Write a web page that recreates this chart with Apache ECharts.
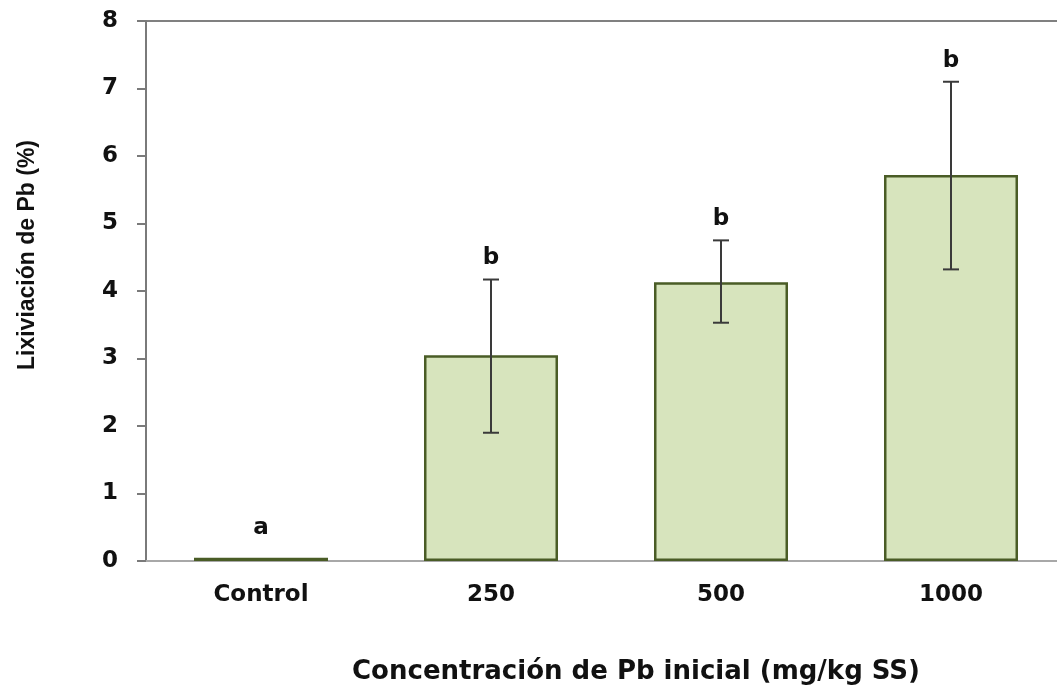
<!DOCTYPE html>
<html>
<head>
<meta charset="utf-8">
<script src="https://cdn.jsdelivr.net/npm/echarts@6/dist/echarts.min.js"></script>
<style>
  html, body { margin: 0; padding: 0; background: #ffffff; }
  #chart { width: 1057px; height: 690px; }
</style>
</head>
<body>
<div id="chart"></div>
<script>
// Pb leaching (%) by initial Pb concentration, mean bars with error bars
const categories = ['Control', '250', '500', '1000'];
const lixiviacion = [0.05, 3.05, 4.13, 5.72];
const errorLow = [0.05, 1.90, 3.53, 4.32];
const errorHigh = [0.05, 4.17, 4.75, 7.10];
const letters = ['a', 'b', 'b', 'b'];
const yTicks = [0, 1, 2, 3, 4, 5, 6, 7, 8];

const LABEL_FONT = 'DejaVu Sans';
const chart = echarts.init(document.getElementById('chart'));

const errorData = categories.map((c, i) => [i, errorLow[i], errorHigh[i], letters[i]]);

chart.setOption({
  backgroundColor: '#ffffff',
  animation: false,
  grid: {
    left: 146, top: 21, width: 920, height: 540,
    outerBoundsMode: 'none', containLabel: false,
    show: true, borderColor: '#808080', borderWidth: 2, backgroundColor: 'transparent'
  },
  xAxis: {
    type: 'category',
    data: categories,
    axisLine: { show: true, lineStyle: { color: '#a8a8a8', width: 2 } },
    axisTick: { show: false },
    axisLabel: {
      margin: 23, color: '#111111',
      fontFamily: LABEL_FONT, fontWeight: 'bold', fontSize: 23
    },
    splitLine: { show: false }
  },
  yAxis: {
    type: 'value',
    min: yTicks[0], max: yTicks[yTicks.length - 1], interval: 1,
    axisLine: { show: true, lineStyle: { color: '#7a7a7a', width: 2 } },
    axisTick: { show: true, inside: false, length: 9, lineStyle: { color: '#7a7a7a', width: 2 } },
    axisLabel: {
      margin: 28, color: '#111111',
      fontFamily: LABEL_FONT, fontWeight: 'bold', fontSize: 23
    },
    splitLine: { show: false }
  },
  graphic: [
    {
      type: 'text', x: 28, y: 255, rotation: Math.PI / 2,
      style: {
        text: 'Lixiviación de Pb (%)',
        font: 'bold 23px "Liberation Sans", Arial, sans-serif',
        fill: '#111111', textAlign: 'center', textVerticalAlign: 'middle'
      }
    },
    {
      type: 'text', x: 636, y: 672,
      style: {
        text: 'Concentración de Pb inicial (mg/kg SS)',
        font: 'bold 26px "DejaVu Sans", sans-serif',
        fill: '#111111', textAlign: 'center', textVerticalAlign: 'middle'
      }
    }
  ],
  series: [
    {
      type: 'bar',
      data: lixiviacion,
      barWidth: 134,
      itemStyle: { color: '#d7e4bd', borderColor: '#4a5c26', borderWidth: 2.5 },
      z: 2
    },
    {
      type: 'custom',
      data: errorData,
      z: 5,
      renderItem: function (params, api) {
        const idx = api.value(0);
        const lo = api.coord([idx, api.value(1)]);
        const hi = api.coord([idx, api.value(2)]);
        const hasError = Math.abs(hi[1] - lo[1]) > 1;
        const cap = 8;
        const children = [];
        if (hasError) {
          const ls = { stroke: '#3a3a3a', lineWidth: 2 };
          children.push(
            { type: 'line', shape: { x1: hi[0], y1: hi[1], x2: lo[0], y2: lo[1] }, style: ls },
            { type: 'line', shape: { x1: hi[0] - cap, y1: hi[1], x2: hi[0] + cap, y2: hi[1] }, style: ls },
            { type: 'line', shape: { x1: lo[0] - cap, y1: lo[1], x2: lo[0] + cap, y2: lo[1] }, style: ls }
          );
        }
        children.push({
          type: 'text',
          x: hi[0], y: hi[1] - (hasError ? 21 : 30),
          style: {
            text: api.value(3),
            font: 'bold 23px "DejaVu Sans", sans-serif',
            fill: '#111111', textAlign: 'center', textVerticalAlign: 'middle'
          }
        });
        return { type: 'group', children: children };
      }
    }
  ]
});
</script>
</body>
</html>
